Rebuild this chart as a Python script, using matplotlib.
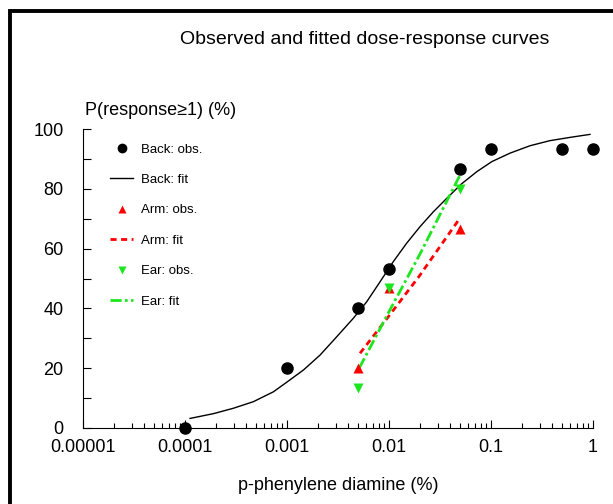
import matplotlib
matplotlib.use('Agg')
import matplotlib.pyplot as plt
import matplotlib.ticker as mticker
from matplotlib.patches import Rectangle

plt.rcParams['font.family'] = ['Liberation Sans', 'DejaVu Sans']

# observed data (% responding)
dose_obs = [0.0001, 0.001, 0.005, 0.01, 0.05, 0.1, 0.5, 1.0]
back_obs = [0.0, 20.0, 40.0, 53.3, 86.7, 93.3, 93.3, 93.3]
dose_sub = [0.005, 0.01, 0.05]
arm_obs = [20.0, 46.7, 66.7]
ear_obs = [13.3, 46.7, 80.0]

# fitted curves
back_fit_x = [0.000112, 0.000190, 0.000298, 0.000468, 0.000735, 0.000993,
              0.00145, 0.00211, 0.00307, 0.00447, 0.00604, 0.00817, 0.0110,
              0.0149, 0.0201, 0.0272, 0.0368, 0.0508, 0.0724, 0.102, 0.153,
              0.241, 0.378, 0.596, 0.935]
back_fit_y = [3.2, 4.8, 6.6, 8.8, 12.1, 15.3, 19.4, 24.4, 30.5, 36.7, 42.2,
              48.9, 55.6, 61.8, 67.3, 72.3, 76.8, 81.5, 85.7, 89.1, 91.9,
              94.4, 96.1, 97.2, 98.2]
arm_fit_x = [0.0052, 0.010, 0.020, 0.0489]
arm_fit_y = [25.0, 37.5, 51.0, 69.9]
ear_fit_x = [0.0051, 0.010, 0.020, 0.0497]
ear_fit_y = [20.0, 38.9, 58.0, 84.6]

fig = plt.figure(figsize=(6.13, 5.04), dpi=100)
ax = fig.add_axes([83 / 613, 1 - 428 / 504, 510 / 613, 299 / 504])

ax.plot(dose_obs, back_obs, 'o', color='black', ms=8, label='Back: obs.', clip_on=False, zorder=5)
ax.plot(back_fit_x, back_fit_y, '-', color='black', lw=1, label='Back: fit')
ax.plot(dose_sub, arm_obs, '^', color='red', ms=7.5, mec='none', label='Arm: obs.', zorder=4)
ax.plot(arm_fit_x, arm_fit_y, color='red', lw=2, ls=(0, (2.2, 1.6)), label='Arm: fit')
ax.plot(dose_sub, ear_obs, 'v', color='#1ee61e', ms=7.5, mec='none', label='Ear: obs.', zorder=4)
ax.plot(ear_fit_x, ear_fit_y, color='#1ee61e', lw=2, ls=(0, (4, 1.2, 1, 1.2)), label='Ear: fit')

ax.set_xscale('log')
ax.set_xlim(1e-5, 1)
ax.set_ylim(0, 100)
ax.set_xticks([1e-5, 1e-4, 1e-3, 1e-2, 1e-1, 1])
ax.set_xticklabels(['0.00001', '0.0001', '0.001', '0.01', '0.1', '1'])
ax.xaxis.set_minor_locator(mticker.LogLocator(base=10, subs=range(2, 10), numticks=10))
ax.xaxis.set_minor_formatter(mticker.NullFormatter())
ax.set_yticks([0, 20, 40, 60, 80, 100])
ax.yaxis.set_minor_locator(mticker.MultipleLocator(10))

for s in ['top', 'right']:
    ax.spines[s].set_visible(False)
ax.spines['left'].set_linewidth(0.8)
ax.spines['bottom'].set_linewidth(0.8)
ax.tick_params(axis='x', which='major', direction='in', length=5.8, width=0.8, pad=8, labelsize=13)
ax.tick_params(axis='x', which='minor', direction='in', length=3.6, width=0.8)
ax.tick_params(axis='y', which='both', direction='in', length=5.8, width=0.8, pad=14, labelsize=13)

ax.set_xlabel('p-phenylene diamine (%)', fontsize=13, labelpad=15)
ax.text(0.003, 1.035, 'P(response\u22651) (%)', transform=ax.transAxes, fontsize=13,
        ha='left', va='bottom')
fig.text(365 / 613, 1 - 40 / 504, 'Observed and fitted dose-response curves',
         fontsize=14, ha='center', va='center')

ax.legend(loc='upper left', bbox_to_anchor=(0.053, 0.952), frameon=False,
          fontsize=9.5, labelspacing=1.38, handlelength=1.75, handletextpad=0.6,
          borderpad=0, borderaxespad=0, numpoints=1, markerscale=0.75)

# partial frame around the figure
fig.add_artist(Rectangle((10 / 613, -0.2), 1.2, 1.2 - 11.5 / 504,
                         transform=fig.transFigure, fill=False, lw=2.8,
                         edgecolor='black', clip_on=False))

fig.savefig('out.png', dpi=100)
